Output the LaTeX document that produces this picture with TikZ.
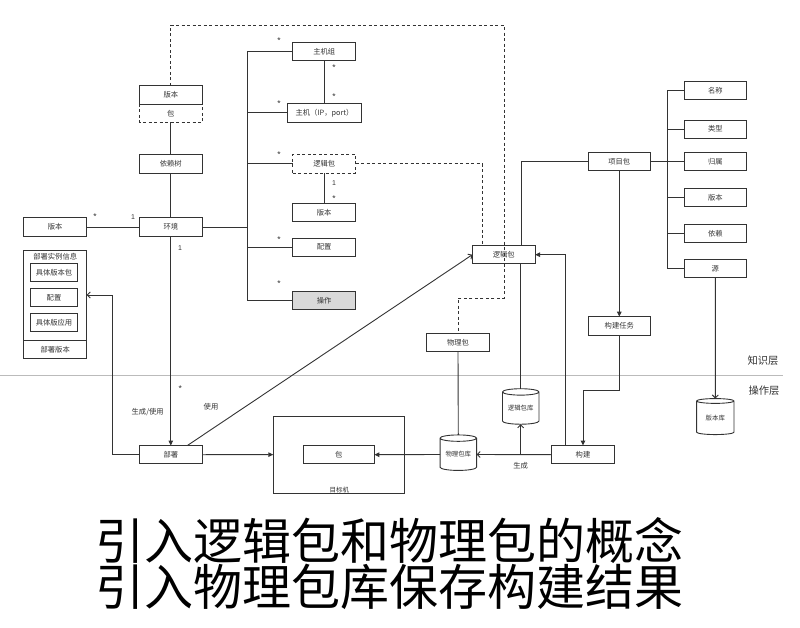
\documentclass[tikz,border=0pt]{standalone}
\usepackage{fontspec}
\setmainfont{Noto Sans CJK SC}
\newfontfamily\latinf{Liberation Sans}
\usetikzlibrary{arrows.meta,shapes.geometric,calc}
\definecolor{linec}{HTML}{333333}
\definecolor{sepc}{HTML}{BBBBBB}
\definecolor{opfill}{HTML}{D9D9D9}
\begin{document}
\begin{tikzpicture}[x=1pt,y=-1pt,
  every node/.style={inner sep=0pt,outer sep=0pt,text=linec},
  box/.style={draw=linec,line width=0.9pt,minimum width=63pt,minimum height=18.3pt,font=\fontsize{7.3}{8}\selectfont},
  dbox/.style={box,dash pattern=on 3pt off 2.5pt},
  conn/.style={draw=linec,line width=0.9pt},
  dconn/.style={conn,dash pattern=on 3pt off 2.5pt},
  fa/.style={conn,-{Triangle[length=5pt,width=4.5pt]}},
  oa/.style={conn,-{Straight Barb[length=3pt,width=6pt]}},
  mult/.style={font=\latinf\fontsize{8.5}{9}\selectfont},
  multn/.style={font=\latinf\fontsize{7}{8}\selectfont},
  lbl/.style={font=\fontsize{7.3}{8}\selectfont},
  cyl/.style={draw=linec,line width=0.9pt,cylinder,shape border rotate=90,aspect=0.25,minimum width=36.5pt,minimum height=35.5pt,font=\fontsize{6.4}{7}\selectfont},
  layer/.style={font=\fontsize{10.3}{11}\selectfont}
]
\useasboundingbox (0,0) rectangle (800,628);

% layer separator
\draw[sepc,line width=1.3pt] (0,375.7) -- (783,375.7);
\node[layer] (zsc) at (763,361) {知识层};
\node[layer] (czc) at (764,391) {操作层};

% left column
\node[box] (verB) at (170.8,94.85) {版本};
\node[box,draw=none,minimum height=18.3pt] (bao) at (170.8,113.15) {包};
\draw[dconn] (bao.north west) -- (bao.south west) -- (bao.south east) -- (bao.north east);
\node[box] (yilai) at (170.8,164) {依赖树};
\node[box] (huanjing) at (170.8,227) {环境};
\node[box] (verL) at (55.2,227) {版本};

% middle column
\node[box] (zhujizu) at (324.2,51.7) {主机组};
\node[box,minimum width=73.6pt] (zhuji) at (324.5,112.85) {主机（IP，port）};
\node[dbox] (ljb1) at (324.2,163.85) {逻辑包};
\node[box] (ver2) at (324.2,212.3) {版本};
\node[box] (peizhi) at (324.2,247.3) {配置};
\node[box,fill=opfill] (caozuo) at (324.2,300.5) {操作};

% right part
\node[box,minimum width=62.7pt] (ljb2) at (503.7,254.7) {逻辑包};
\node[box,minimum width=62.7pt] (wlb) at (458,342.5) {物理包};
\node[box,minimum width=62pt] (xmb) at (619.3,161.3) {项目包};
\node[box,minimum width=62pt] (gjrw) at (619.3,325.85) {构建任务};
\node[box,minimum width=62.7pt] (mc) at (715.3,90.8) {名称};
\node[box,minimum width=62.7pt] (lx) at (715.3,129.2) {类型};
\node[box,minimum width=62.7pt] (gs) at (715.3,161.3) {归属};
\node[box,minimum width=62.7pt] (bb) at (715.3,197.5) {版本};
\node[box,minimum width=62.7pt] (yl) at (715.3,233.8) {依赖};
\node[box,minimum width=62.7pt] (yuan) at (715.3,268.8) {源};

% operation layer
\node[box] (bushu) at (170.8,454.7) {部署};
\node[box,minimum width=62.7pt] (goujian) at (583,454.7) {构建};
\node[draw=linec,line width=0.9pt,minimum width=130.7pt,minimum height=77.3pt] (tgt) at (338.65,454.65) {};
\node[font=\fontsize{6.5}{7}\selectfont] (tgtl) at (339.3,490) {目标机};
\node[box,minimum width=71pt] (bao2) at (338.8,454.7) {包};
\node[cyl] (ljbk) at (520.7,408.3) {逻辑包库};
\node[cyl] (wlbk) at (458.3,454.5) {物理包库};
\node[cyl,minimum width=37.3pt,minimum height=36pt] (bbk) at (715.3,418) {版本库};

% deployment info container
\node[draw=linec,line width=0.9pt,minimum width=63pt,minimum height=107.6pt] (dinfo) at (55.2,304.5) {};
\draw[conn] (23.7,340.3) -- (86.7,340.3);
\node[lbl] (dtitle) at (55.2,257) {部署实例信息};
\node[lbl] (dver) at (55.2,349.5) {部署版本};
\node[box,minimum width=46.6pt] (jtb) at (54,272.7) {具体版本包};
\node[box,minimum width=46.6pt] (dpz) at (54,297.5) {配置};
\node[box,minimum width=46.6pt] (jty) at (54,322.5) {具体版应用};

% dashed connectors
\coordinate (d1) at (504,25);
\coordinate (d2) at (504,298);
\draw[dconn] (verB.north) |- (d1) -- (d2) -| (wlb.north);
\coordinate (d3) at (482.3,163.85);
\draw[dconn] (ljb1.east) -- (d3) -- (d3 |- ljb2.north);

% left column connectors
\draw[conn] (bao.south) -- (yilai.north);
\draw[conn] (yilai.south) -- (huanjing.north);
\draw[conn] (verL.east) -- (huanjing.west);
\draw[fa] (huanjing.south) -- (bushu.north);

% bus
\coordinate (bx) at (247.5,0);
\draw[conn] (zhujizu.west) -- (zhujizu.west -| bx) -- (caozuo.west -| bx) -- (caozuo.west);
\draw[conn] (zhuji.west) -- (zhuji.west -| bx);
\draw[conn] (ljb1.west) -- (ljb1.west -| bx);
\draw[conn] (peizhi.west) -- (peizhi.west -| bx);
\draw[conn] (huanjing.east) -- (huanjing.east -| bx);
\draw[conn] (zhujizu.south) -- (zhujizu.south |- zhuji.north);
\draw[conn] (ljb1.south) -- (ver2.north);

% multiplicities
\node[mult] (m1) at (95,217) {*};
\node[multn] (m2) at (133,217) {1};
\node[multn] (m3) at (180,248) {1};
\node[mult] (m4) at (180.3,388.5) {*};
\node[mult] (m5) at (279,41) {*};
\node[mult] (m6) at (279,103.5) {*};
\node[mult] (m7) at (279,154.5) {*};
\node[mult] (m8) at (279,240) {*};
\node[mult] (m9) at (279,284) {*};
\node[mult] (m10) at (334,68) {*};
\node[mult] (m11) at (334,97) {*};
\node[multn] (m12) at (334,183.3) {1};
\node[mult] (m13) at (334,198.5) {*};

% labels
\node[lbl] (l1) at (147.7,412.3) {生成/使用};
\node[lbl] (l2) at (211,406.7) {使用};

% deployment connectors
\coordinate (c1) at (112.7,295);
\draw[oa] (bushu.west) -| (c1) -- (c1 -| dinfo.east);
\draw[oa] ([xshift=16.5pt]bushu.north) -- (ljb2.west);
\draw[fa] (bushu.east) -- (tgt.west);
\draw[fa] (wlbk.west) -- (bao2.east);

% build connectors
\draw[oa] (goujian.west) -- (wlbk.east);
\coordinate (g0) at (520.7,454.7);
\draw[oa] (g0) -- (ljbk.south);
\node[lbl] (l3) at (520.7,465.5) {生成};
\draw[fa] ([xshift=-18pt]goujian.north) |- (ljb2.east);
\draw[conn] (xmb.west) -| ([xshift=18pt]ljb2.north);
\draw[conn] (ljbk.north |- ljb2.south) -- (ljbk.north);
\draw[conn] (wlb.south) -- (wlbk.north);
\draw[fa] (xmb.south) -- (gjrw.north);
\coordinate (g1) at (619.3,390);
\draw[fa] (gjrw.south) -- (g1) -| (goujian.north);

% right tree
\coordinate (rb) at (667.7,0);
\draw[conn] (mc.west) -- (mc.west -| rb) -- (yuan.west -| rb) -- (yuan.west);
\draw[conn] (lx.west) -- (lx.west -| rb);
\draw[conn] (gs.west) -- (gs.west -| rb);
\draw[conn] (bb.west) -- (bb.west -| rb);
\draw[conn] (yl.west) -- (yl.west -| rb);
\draw[conn] (xmb.east) -- (xmb.east -| rb);
\draw[oa] (yuan.south) -- (bbk.north);

% title
\node[font=\fontsize{49}{49}\selectfont,text=black] (t1) at (389,541) {引入逻辑包和物理包的概念};
\node[font=\fontsize{49}{49}\selectfont,text=black] (t2) at (389,587) {引入物理包库保存构建结果};
\end{tikzpicture}
\end{document}
